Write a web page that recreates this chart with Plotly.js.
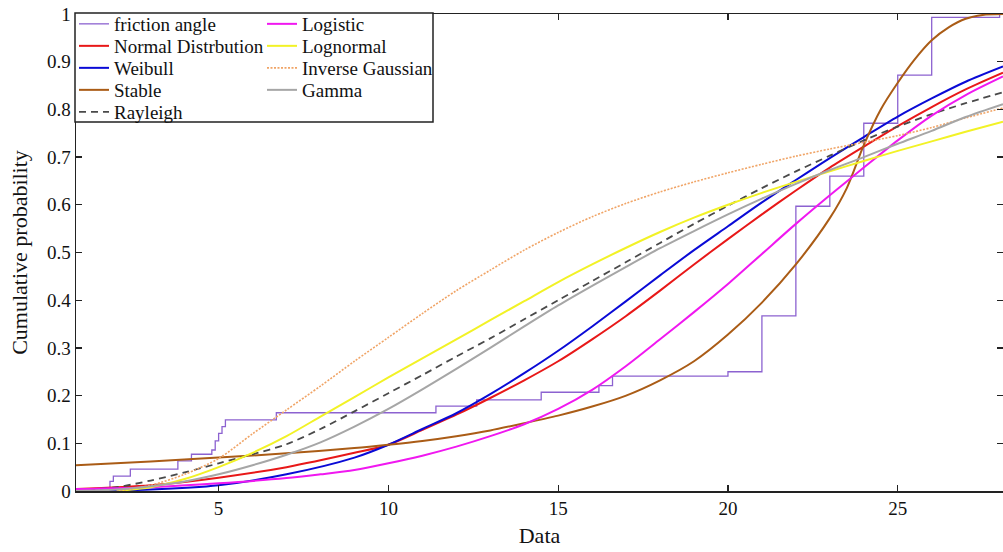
<!DOCTYPE html>
<html>
<head>
<meta charset="utf-8">
<script src="https://cdn.plot.ly/plotly-3.0.1.min.js"></script>
<style>html,body{margin:0;padding:0;background:#fff;}#chart{width:1003px;height:552px;}</style>
</head>
<body>
<div id="chart"></div>
<script>
// Empirical CDF of friction angle (step function)
const frictionX = [0.8, 1.8, 1.9, 2.4, 3.8, 4.2, 4.8, 4.9, 5.0, 5.1, 5.2, 6.7, 11.4, 12.6, 14.5, 16.2, 16.6, 20.0, 21.0, 22.0, 23.0, 24.0, 25.0, 26.0, 28.0, 28.1];
const frictionY = [0, 0.02, 0.031, 0.046, 0.063, 0.077, 0.086, 0.105, 0.121, 0.135, 0.149, 0.164, 0.178, 0.191, 0.207, 0.221, 0.241, 0.25, 0.367, 0.597, 0.66, 0.771, 0.872, 0.993, 1.0, 1.0];

// Fitted CDFs
const normalX = [0.8, 3, 5, 7, 9, 10, 11, 12, 13, 14, 15, 16, 17, 18, 19, 20, 21, 22, 23, 24, 25, 26, 27, 28.1];
const normalY = [0.004, 0.012, 0.028, 0.05, 0.08, 0.097, 0.128, 0.16, 0.195, 0.232, 0.272, 0.318, 0.367, 0.42, 0.475, 0.528, 0.58, 0.63, 0.678, 0.722, 0.765, 0.805, 0.842, 0.877];

const weibullX = [0.8, 3, 5, 7, 9, 10, 11, 12, 13, 14, 15, 16, 17, 18, 19, 20, 21, 22, 23, 24, 25, 26, 27, 28.1];
const weibullY = [0.0, 0.003, 0.012, 0.035, 0.07, 0.097, 0.13, 0.163, 0.203, 0.247, 0.294, 0.345, 0.398, 0.452, 0.505, 0.555, 0.605, 0.652, 0.698, 0.742, 0.785, 0.823, 0.858, 0.89];

const stableX = [0.8, 3, 5, 7, 9, 10, 11, 12, 13, 14, 15, 16, 17, 18, 19, 20, 21, 22, 23, 23.5, 24, 24.5, 25, 25.5, 26, 26.5, 27, 27.5, 28.1];
const stableY = [0.054, 0.062, 0.07, 0.079, 0.09, 0.097, 0.105, 0.115, 0.127, 0.142, 0.158, 0.177, 0.2, 0.232, 0.272, 0.328, 0.395, 0.475, 0.572, 0.635, 0.725, 0.80, 0.856, 0.905, 0.945, 0.972, 0.99, 0.998, 1.0];

const rayleighX = [0.8, 2, 3, 4, 5, 6, 7, 8, 9, 10, 11, 12, 13, 14, 15, 16, 17, 18, 19, 20, 21, 22, 23, 24, 25, 26, 27, 28.1];
const rayleighY = [0.001, 0.008, 0.022, 0.039, 0.058, 0.077, 0.098, 0.13, 0.167, 0.205, 0.243, 0.282, 0.32, 0.36, 0.40, 0.44, 0.48, 0.52, 0.56, 0.598, 0.635, 0.67, 0.703, 0.735, 0.764, 0.79, 0.813, 0.836];

const logisticX = [0.8, 3, 5, 7, 8, 9, 10, 11, 12, 13, 14, 15, 16, 17, 18, 19, 20, 21, 22, 23, 24, 25, 26, 27, 28.1];
const logisticY = [0.004, 0.008, 0.016, 0.027, 0.035, 0.044, 0.058, 0.074, 0.093, 0.115, 0.14, 0.172, 0.212, 0.262, 0.318, 0.375, 0.434, 0.497, 0.56, 0.62, 0.678, 0.735, 0.787, 0.83, 0.869];

const lognormalX = [2, 3, 4, 5, 6, 7, 8, 9, 10, 11, 12, 13, 14, 15, 16, 17, 18, 19, 20, 21, 22, 23, 24, 25, 26, 27, 28.1];
const lognormalY = [0.0, 0.008, 0.025, 0.05, 0.08, 0.115, 0.156, 0.197, 0.238, 0.278, 0.318, 0.358, 0.398, 0.438, 0.475, 0.51, 0.543, 0.573, 0.60, 0.625, 0.648, 0.67, 0.692, 0.713, 0.733, 0.753, 0.774];

const invGaussX = [2, 3, 4, 5, 6, 7, 8, 9, 10, 11, 12, 13, 14, 15, 16, 17, 18, 19, 20, 21, 22, 23, 24, 25, 26, 27, 28.1];
const invGaussY = [0.0, 0.012, 0.035, 0.068, 0.12, 0.17, 0.22, 0.272, 0.322, 0.372, 0.42, 0.463, 0.505, 0.542, 0.575, 0.603, 0.627, 0.648, 0.667, 0.685, 0.702, 0.717, 0.731, 0.745, 0.762, 0.782, 0.803];

const gammaX = [0.8, 2, 3, 4, 5, 6, 7, 8, 9, 10, 11, 12, 13, 14, 15, 16, 17, 18, 19, 20, 21, 22, 23, 24, 25, 26, 27, 28.1];
const gammaY = [0.0, 0.003, 0.01, 0.02, 0.035, 0.054, 0.076, 0.102, 0.135, 0.172, 0.213, 0.256, 0.30, 0.345, 0.389, 0.43, 0.47, 0.509, 0.545, 0.58, 0.613, 0.644, 0.673, 0.70, 0.728, 0.755, 0.784, 0.811];

const xTicks = [5, 10, 15, 20, 25];
const yTicks = [0, 0.1, 0.2, 0.3, 0.4, 0.5, 0.6, 0.7, 0.8, 0.9, 1];
const yTickText = ['0', '0.1', '0.2', '0.3', '0.4', '0.5', '0.6', '0.7', '0.8', '0.9', '1'];

const FONT = 'Liberation Serif, Times New Roman, serif';

const L = 76, R = 1003, T = 14, B = 491;
const px2x = p => (p - L) / (R - L);
const py2y = p => (B - p) / (B - T);

function curve(name, x, y, color, width, dash) {
  return {x: x, y: y, name: name, type: 'scatter', mode: 'lines',
    line: {color: color, width: width, dash: dash || 'solid', shape: 'spline', smoothing: 0.8}};
}

const traces = [
  {x: frictionX, y: frictionY, name: 'friction angle', type: 'scatter', mode: 'lines',
   line: {color: '#8c62d0', width: 1.3, shape: 'hv'}},
  curve('Normal Distrbution', normalX, normalY, '#e81818', 2, 'solid'),
  curve('Weibull', weibullX, weibullY, '#0a0ad6', 2, 'solid'),
  curve('Stable', stableX, stableY, '#aa5c16', 2, 'solid'),
  curve('Rayleigh', rayleighX, rayleighY, '#4a4a4a', 1.8, '7px,5px'),
  curve('Logistic', logisticX, logisticY, '#f018f0', 2, 'solid'),
  curve('Lognormal', lognormalX, lognormalY, '#f2f226', 2, 'solid'),
  curve('Inverse Gaussian', invGaussX, invGaussY, '#f0a466', 1.6, '2px,1.5px'),
  curve('Gamma', gammaX, gammaY, '#a6a6a6', 2, 'solid')
];

// legend slots: column 1 holds the first five entries, column 2 the rest
const rowCenters = [24, 46, 68, 90, 112];
const colLeft = [74, 262];

const layout = {
  width: 1003, height: 552,
  margin: {l: L, r: 1003 - R, t: T, b: 552 - B, pad: 0},
  paper_bgcolor: '#ffffff', plot_bgcolor: '#ffffff',
  font: {family: FONT, size: 19, color: '#111'},
  showlegend: true,
  xaxis: {
    range: [0.8, 28.1], tickvals: xTicks, ticktext: xTicks.map(String),
    ticks: 'inside', ticklen: 6, tickwidth: 1.3, tickcolor: '#222',
    showline: true, linecolor: '#222', linewidth: 1.5, mirror: 'ticks',
    showgrid: false, zeroline: false,
    tickfont: {family: FONT, size: 19, color: '#111'},
    title: {text: 'Data', font: {family: FONT, size: 22, color: '#111'}, standoff: 9}
  },
  yaxis: {
    range: [0, 1], tickvals: yTicks, ticktext: yTickText,
    ticks: 'inside', ticklen: 6, tickwidth: 1.3, tickcolor: '#222',
    showline: true, linecolor: '#222', linewidth: 1.5, mirror: 'ticks',
    showgrid: false, zeroline: false,
    tickfont: {family: FONT, size: 19, color: '#111'},
    title: {text: 'Cumulative probability', font: {family: FONT, size: 22, color: '#111'}, standoff: 13}
  },
  shapes: [
    {type: 'rect', xref: 'paper', yref: 'paper', x0: px2x(75), x1: px2x(433), y0: py2y(122), y1: py2y(13),
     line: {color: '#222', width: 1.5}, fillcolor: 'rgba(255,255,255,1)', layer: 'above'}
  ]
};

traces.forEach((tr, i) => {
  const key = i === 0 ? 'legend' : 'legend' + (i + 1);
  const col = i < 5 ? 0 : 1;
  const row = i < 5 ? i : i - 5;
  tr.legend = key;
  layout[key] = {
    x: px2x(colLeft[col]), y: py2y(rowCenters[row]),
    xanchor: 'left', yanchor: 'middle',
    bgcolor: 'rgba(0,0,0,0)', borderwidth: 0, itemwidth: 30,
    font: {family: FONT, size: 19, color: '#111'}
  };
});

Plotly.newPlot('chart', traces, layout, {staticPlot: true, displayModeBar: false});
</script>
</body>
</html>
